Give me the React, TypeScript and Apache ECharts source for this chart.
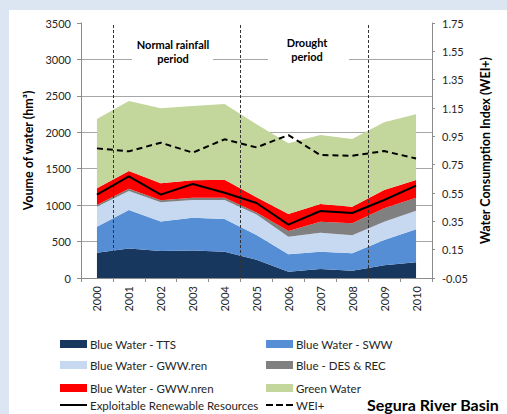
import React, { useEffect, useRef } from "react";
import * as echarts from "echarts";

const years = ["2000", "2001", "2002", "2003", "2004", "2005", "2006", "2007", "2008", "2009", "2010"];
const tts = [348, 405, 372, 377, 361, 250, 87, 124, 101, 175, 216];
const sww = [357, 528, 403, 451, 449, 340, 238, 237, 238, 347, 452];
const gwwRen = [274, 261, 264, 243, 261, 280, 242, 261, 247, 251, 256];
const desRec = [23, 32, 27, 32, 32, 30, 78, 151, 164, 183, 179];
const gwwNren = [229, 243, 233, 237, 247, 210, 233, 243, 229, 252, 242];
const green = [951, 960, 1030, 1021, 1038, 1000, 970, 947, 929, 929, 901];
const exploitable = [1144, 1395, 1144, 1290, 1170, 1030, 732, 920, 892, 1071, 1267];
const wei = [0.865, 0.844, 0.905, 0.835, 0.929, 0.872, 0.959, 0.818, 0.813, 0.846, 0.794];
const periodBounds = [1, 5, 9];
const weiOffset = 0.05;

const FONT = "Lato, 'Open Sans', sans-serif";
const SOLID_ICON = "path://M0,0h27v2h-27z";
const DASH_ICON = "path://M0,0h7v2h-7zM10,0h7v2h-7zM20,0h7v2h-7z";

export default function App() {
  const ref = useRef<HTMLDivElement>(null);
  useEffect(() => {
    if (!ref.current) return;
    const chart = echarts.init(ref.current, undefined, { renderer: "svg" });
    const areaSeries = (name: string, data: number[], color: string) => ({
      name,
      type: "line",
      stack: "water",
      data,
      color,
      symbol: "none",
      showSymbol: false,
      lineStyle: { width: 0, opacity: 0 },
      areaStyle: { color, opacity: 1 },
      z: 2,
    });
    const legendItem = (name: string, left: number, top: number, icon: string, h: number) => ({
      left,
      top,
      padding: 0,
      itemWidth: 27,
      itemHeight: h,
      itemGap: 0,
      textStyle: { fontFamily: FONT, fontSize: 11.5, color: "#262626", padding: [0, 0, 0, -2] },
      data: [{ name, icon }],
    });
    const legendTop = [338, 359, 382, 399];
    chart.setOption({
      animation: false,
      backgroundColor: "transparent",
      textStyle: { fontFamily: FONT },
      grid: { left: 81, top: 23, width: 351, height: 255 },
      xAxis: [
        {
          type: "category",
          data: years,
          boundaryGap: true,
          axisLine: { lineStyle: { color: "#8c8c8c" } },
          axisTick: { show: true, interval: 0, length: 4, lineStyle: { color: "#8c8c8c" } },
          axisLabel: { rotate: 90, interval: 0, fontSize: 11, color: "#262626", margin: 8, fontFamily: FONT },
          splitLine: { show: false },
        },
        { type: "value", min: 0, max: 11, show: false },
      ],
      yAxis: [
        {
          type: "value",
          min: 0,
          max: 3500,
          interval: 500,
          name: "Voume of water (hm³)",
          nameLocation: "middle",
          nameGap: 32,
          nameTextStyle: { fontSize: 12.5, fontWeight: "bold", color: "#000", fontFamily: FONT },
          axisLine: { show: true, lineStyle: { color: "#8c8c8c" } },
          axisTick: { show: true, length: 4, lineStyle: { color: "#8c8c8c" } },
          axisLabel: {
            fontSize: 11,
            color: "#262626",
            margin: 10,
            fontFamily: FONT,
            formatter: (v: number) => String(v),
          },
          splitLine: { show: true, showMaxLine: false, lineStyle: { color: "#a6a6a6", width: 1 } },
        },
        {
          type: "value",
          min: 0,
          max: 1.8,
          interval: 0.2,
          position: "right",
          name: "Water Consumption Index (WEI+)",
          nameLocation: "middle",
          nameGap: 42,
          nameRotate: 90,
          nameTextStyle: { fontSize: 12.5, fontWeight: "bold", color: "#000", fontFamily: FONT },
          axisLine: { show: true, lineStyle: { color: "#8c8c8c" } },
          axisTick: { show: true, length: 3, lineStyle: { color: "#8c8c8c" } },
          axisLabel: {
            fontSize: 11,
            color: "#262626",
            margin: 10,
            fontFamily: FONT,
            formatter: (v: number) => (v - weiOffset).toFixed(2),
          },
          splitLine: { show: false },
        },
      ],
      legend: [
        legendItem("Blue Water - TTS", 60, legendTop[0], "rect", 8),
        legendItem("Blue Water - SWW", 266, legendTop[0], "rect", 8),
        legendItem("Blue Water - GWW.ren", 60, legendTop[1], "rect", 8),
        legendItem("Blue - DES & REC", 266, legendTop[1], "rect", 8),
        legendItem("Blue Water - GWW.nren", 60, legendTop[2], "rect", 8),
        legendItem("Green Water", 266, legendTop[2], "rect", 8),
        legendItem("Exploitable Renewable Resources", 60, legendTop[3], SOLID_ICON, 2),
        legendItem("WEI+", 266, legendTop[3], DASH_ICON, 2),
      ],
      graphic: [
        { type: "rect", shape: { x: 132, y: 36, width: 81, height: 30 }, style: { fill: "#fff" }, z: 10 },
        { type: "rect", shape: { x: 268, y: 34, width: 81, height: 30 }, style: { fill: "#fff" }, z: 10 },
        {
          type: "text",
          x: 173,
          y: 51,
          z: 11,
          style: {
            text: "Normal rainfall\nperiod",
            align: "center",
            verticalAlign: "middle",
            lineHeight: 14,
            font: `bold 11px ${FONT}`,
            fill: "#000",
          },
        },
        {
          type: "text",
          x: 307,
          y: 49,
          z: 11,
          style: {
            text: "Drought\nperiod",
            align: "center",
            verticalAlign: "middle",
            lineHeight: 14,
            font: `bold 11px ${FONT}`,
            fill: "#000",
          },
        },
        {
          type: "text",
          x: 367,
          y: 404,
          z: 11,
          style: {
            text: "Segura River Basin",
            align: "left",
            verticalAlign: "middle",
            font: `bold 16px ${FONT}`,
            fill: "#000",
          },
        },
      ],
      series: [
        areaSeries("Blue Water - TTS", tts, "#17375e"),
        areaSeries("Blue Water - SWW", sww, "#558ed5"),
        areaSeries("Blue Water - GWW.ren", gwwRen, "#c6d9f1"),
        areaSeries("Blue - DES & REC", desRec, "#808080"),
        areaSeries("Blue Water - GWW.nren", gwwNren, "#ff0000"),
        areaSeries("Green Water", green, "#c3d69b"),
        {
          name: "Exploitable Renewable Resources",
          type: "line",
          data: exploitable,
          color: "#000",
          symbol: "none",
          lineStyle: { color: "#000", width: 2 },
          z: 5,
        },
        {
          name: "WEI+",
          type: "line",
          yAxisIndex: 1,
          data: wei.map((v) => v + weiOffset),
          color: "#000",
          symbol: "none",
          lineStyle: { color: "#000", width: 2, type: [6, 4] },
          z: 5,
        },
        {
          name: "bounds",
          type: "scatter",
          xAxisIndex: 1,
          yAxisIndex: 0,
          data: [[0, -100]],
          symbolSize: 0,
          silent: true,
          z: 6,
          markLine: {
            silent: true,
            symbol: "none",
            label: { show: false },
            lineStyle: { color: "#333", width: 1, type: [3, 2] },
            data: periodBounds.map((b) => ({ xAxis: b })),
          },
        },
      ],
    });
    return () => chart.dispose();
  }, []);
  return (
    <div style={{ position: "fixed", left: 0, top: 0, width: 507, height: 414, background: "#dce6f2" }}>
      <div style={{ position: "absolute", left: 9, top: 10, width: 498, height: 404, background: "#fff" }} />
      <div ref={ref} style={{ position: "absolute", left: 0, top: 0, width: 507, height: 414 }} />
    </div>
  );
}
